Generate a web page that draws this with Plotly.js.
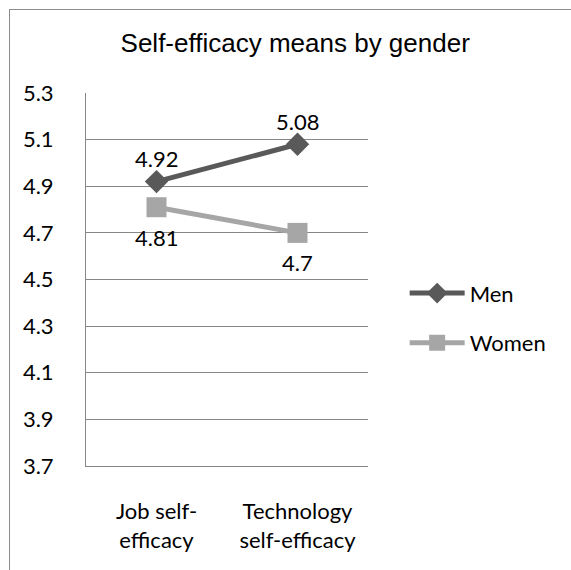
<!DOCTYPE html>
<html><head><meta charset="utf-8">
<script src="https://cdn.plot.ly/plotly-3.0.1.min.js"></script>
<style>body{margin:0;padding:0;background:#fff}#wrap{position:relative;width:571px;height:570px;overflow:hidden}
#frame{position:absolute;left:9px;top:9px;width:620px;height:620px;border:1px solid #8c8c8c;pointer-events:none}</style>
</head><body><div id="wrap"><div id="chart" style="width:571px;height:570px"></div><div id="frame"></div></div>
<script>
const categories = ["Job self-<br>efficacy", "Technology<br>self-efficacy"];
const men = [4.92, 5.08];
const women = [4.81, 4.7];
const yTicks = [3.7, 3.9, 4.1, 4.3, 4.5, 4.7, 4.9, 5.1, 5.3];

const font = "Lato, 'Open Sans', sans-serif";
const traces = [
  {x: categories, y: men, name: "Men", legendgroup: "m", type: "scatter", mode: "lines+markers",
   line: {color: "#595959", width: 5},
   marker: {symbol: "diamond", size: 18, color: "#595959"}},
  {x: categories, y: women, name: "Women", legendgroup: "w", type: "scatter", mode: "lines+markers",
   line: {color: "#a6a6a6", width: 5},
   marker: {symbol: "square", size: 20, color: "#a6a6a6"}}
];
const labelFont = {family: font, size: 22, color: "#000"};
const annotations = [
  ...men.map((v, i) => ({x: categories[i], y: v, text: String(v), showarrow: false, yshift: 23, font: labelFont})),
  ...women.map((v, i) => ({x: categories[i], y: v, text: String(v), showarrow: false, yshift: -30, font: labelFont}))
];
const layout = {
  width: 571, height: 570,
  margin: {l: 86, r: 203, t: 93, b: 104},
  paper_bgcolor: "#fff", plot_bgcolor: "#fff",
  title: {text: "Self-efficacy means by gender", x: 0.517, xanchor: "center", y: 0.925, yanchor: "middle",
          font: {family: "'Liberation Sans', Arial, sans-serif", size: 26, color: "#000"}},
  xaxis: {type: "category", range: [-0.5, 1.5], showgrid: false, zeroline: false,
          showline: true, linecolor: "#868686", linewidth: 1, ticks: "",
          tickfont: {family: font, size: 22, color: "#000"}, ticklabelstandoff: 26},
  yaxis: {range: [3.7, 5.3], tickvals: yTicks, ticktext: yTicks.map(v => v.toFixed(1)),
          showgrid: true, gridcolor: "#868686", gridwidth: 1, zeroline: false,
          showline: true, linecolor: "#868686", linewidth: 1, ticks: "",
          tickfont: {family: font, size: 22, color: "#000"}, ticklabelstandoff: 27},
  annotations: annotations,
  showlegend: true,
  legend: {x: 1.13, y: 0.396, xanchor: "left", yanchor: "middle", bgcolor: "rgba(0,0,0,0)",
           font: {family: font, size: 22, color: "#000"}, tracegroupgap: 18, itemwidth: 55,
           traceorder: "grouped"}
};
Plotly.newPlot("chart", traces, layout, {displayModeBar: false, staticPlot: true});
</script></body></html>
